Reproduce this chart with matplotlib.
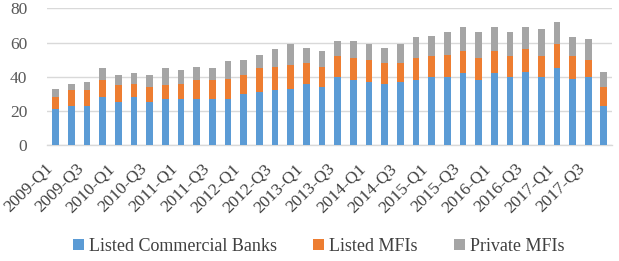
import matplotlib
matplotlib.use("Agg")
import matplotlib.pyplot as plt
import numpy as np

quarters = [f"{y}-Q{q}" for y in range(2009, 2018) for q in range(1, 5)]

commercial_banks = [21, 23, 23, 28, 25, 28, 25, 27, 27, 27, 27, 27,
                    30, 31, 32, 33, 36, 34, 40, 38, 37, 36, 37, 38,
                    40, 40, 42, 38, 42, 40, 43, 40, 45, 39, 40, 23]
listed_mfis = [7, 9, 9, 10, 10, 8, 9, 8, 9, 11, 11, 12,
               11, 14, 14, 14, 12, 12, 12, 13, 13, 12, 11, 13,
               12, 13, 13, 13, 13, 12, 13, 12, 14, 13, 10, 11]
private_mfis = [5, 4, 5, 7, 6, 6, 7, 10, 8, 8, 7, 10,
                9, 8, 10, 12, 9, 9, 9, 10, 9, 9, 11, 12,
                12, 13, 14, 15, 14, 14, 13, 16, 13, 11, 12, 9]

series_names = ["Listed Commercial Banks", "Listed MFIs", "Private MFIs"]
colors = ["#5B9BD5", "#ED7D31", "#A5A5A5"]
text_color = "#595959"
grid_color = "#D9D9D9"

plt.rcParams["font.family"] = ["Liberation Serif", "DejaVu Serif"]

fig = plt.figure(figsize=(6.19, 2.61), dpi=100)
ax = fig.add_axes([0.0754, 0.4433, 0.9128, 0.5249])

x = np.arange(len(quarters))
bottom = np.zeros(len(quarters))
for name, values, color in zip(series_names, [commercial_banks, listed_mfis, private_mfis], colors):
    ax.bar(x, values, width=0.43, bottom=bottom, color=color, label=name, zorder=3)
    bottom += np.array(values)

ax.set_xlim(-0.57, 35.5)
ax.set_ylim(0, 80)
ax.set_yticks([0, 20, 40, 60, 80])
ax.grid(axis="y", color=grid_color, linewidth=1.0, zorder=0)
for side in ["top", "right", "left"]:
    ax.spines[side].set_visible(False)
ax.spines["bottom"].set_color(grid_color)
ax.spines["bottom"].set_linewidth(1.0)

ax.set_xticks(x[::2])
ax.set_xticklabels(quarters[::2], rotation=45, ha="right", fontsize=12.5, color="#404040")
ax.tick_params(axis="x", length=0, pad=11)
ax.tick_params(axis="y", length=0, pad=14, labelsize=12.5, labelcolor=text_color)

fig.legend(loc="center", bbox_to_anchor=(0.515, 0.057), ncol=3, frameon=False,
           fontsize=13, handlelength=0.6, handleheight=0.6, handletextpad=0.3,
           columnspacing=2.0, labelcolor="#404040")

fig.savefig("out.png", dpi=100)
